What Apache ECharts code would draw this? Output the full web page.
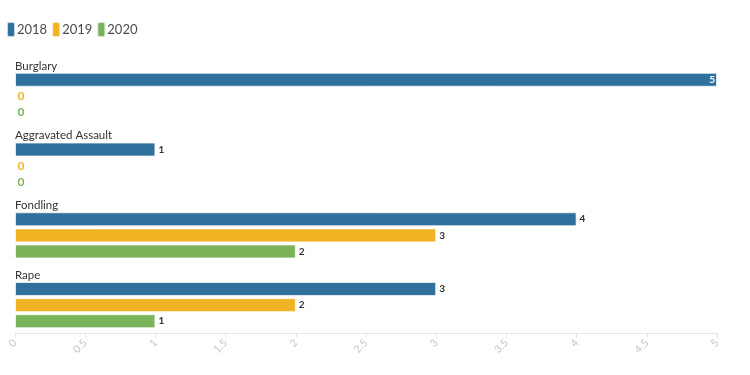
<!DOCTYPE html>
<html><head><meta charset="utf-8">
<script src="https://cdn.jsdelivr.net/npm/echarts@6/dist/echarts.min.js"></script>
<style>html,body{margin:0;padding:0;background:#fff}#c{width:750px;height:375px}</style>
</head><body><div id="c"></div>
<script>
const categories = ['Burglary', 'Aggravated Assault', 'Fondling', 'Rape'];
const seriesNames = ['2018', '2019', '2020'];
const values2018 = [5, 1, 4, 3];
const values2019 = [0, 0, 3, 2];
const values2020 = [0, 0, 2, 1];
const xTicks = [0, 0.5, 1, 1.5, 2, 2.5, 3, 3.5, 4, 4.5, 5];
const colors = ['#2f719c', '#f0b323', '#7ab35a'];

const FONT = "Lato, sans-serif";
const allValues = [values2018, values2019, values2020];
const xMax = xTicks[xTicks.length - 1];

function makeData(vals, color) {
  return vals.map(v => {
    const item = { value: v };
    if (v === 0) {
      item.label = { color: color, distance: 2, fontSize: 12 };
    } else if (v >= xMax) {
      item.label = { position: 'insideRight', color: '#fff', distance: 2 };
    }
    return item;
  });
}

const chart = echarts.init(document.getElementById('c'), null, { renderer: 'canvas' });
chart.setOption({
  animation: false,
  color: colors,
  legend: {
    left: 1, top: 16,
    itemWidth: 8, itemHeight: 15, itemGap: 4,
    icon: 'roundRect',
    textStyle: { fontFamily: FONT, fontSize: 13, color: '#4a4a4a', padding: [0, 0, 0, -3] },
    data: seriesNames
  },
  grid: { left: 15, right: 33, top: 61, bottom: 35, containLabel: false },
  xAxis: {
    type: 'value', min: 0, max: xMax, interval: 0.5, offset: -7,
    axisLine: { show: true, lineStyle: { color: '#e6e6e6', width: 1 } },
    axisTick: { show: true, length: 5, lineStyle: { color: '#e6e6e6' } },
    splitLine: { show: false },
    axisLabel: { rotate: 45, color: '#c4c4c4', fontSize: 10.5, fontFamily: FONT, margin: 8 }
  },
  yAxis: {
    type: 'category', inverse: true, data: categories,
    axisLine: { show: false }, axisTick: { show: false },
    axisLabel: {
      inside: true, align: 'left', margin: 0, verticalAlign: 'middle', interval: 0,
      formatter: v => '{a|' + v + '}\n{b|}',
      rich: {
        a: { color: '#333', fontSize: 11.5, fontFamily: FONT, height: 14, lineHeight: 14 },
        b: { height: 60, lineHeight: 60 }
      }
    }
  },
  series: seriesNames.map((name, i) => ({
    name: name, type: 'bar',
    data: makeData(allValues[i], colors[i]),
    barWidth: 14, barGap: '15%',
    itemStyle: { color: colors[i], borderColor: 'rgba(255,255,255,0.7)', borderWidth: 1 },
    label: {
      show: true, position: 'right', distance: 3,
      color: '#333', fontWeight: 'bold', fontSize: 10, fontFamily: FONT
    }
  }))
});
</script></body></html>
